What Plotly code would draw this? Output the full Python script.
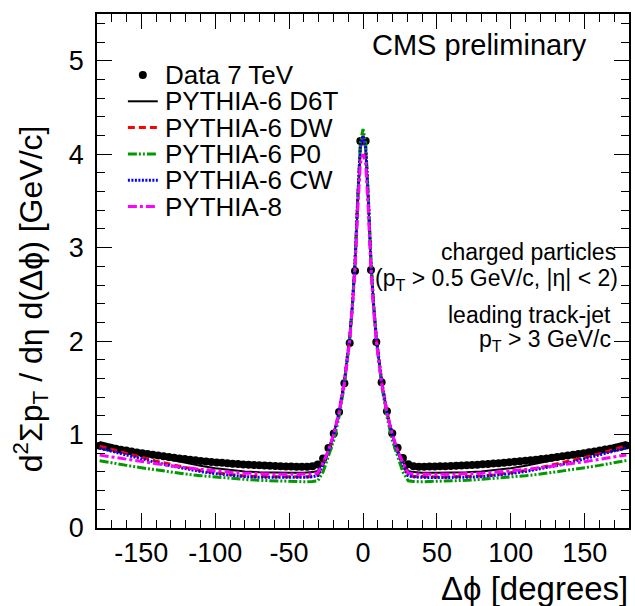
import plotly.graph_objects as go

# ---------------- data ----------------
DATA_PHI = [round(-178.2 + 3.6 * i, 1) for i in range(100)]
DATA_VAL = [
    0.880, 0.869, 0.858, 0.848, 0.838, 0.828, 0.818, 0.809, 0.800, 0.791,
    0.783, 0.775, 0.767, 0.759, 0.751, 0.744, 0.737, 0.730, 0.724, 0.718,
    0.712, 0.707, 0.702, 0.697, 0.692, 0.688, 0.684, 0.680, 0.677, 0.674,
    0.671, 0.668, 0.666, 0.663, 0.661, 0.659, 0.657, 0.656, 0.655, 0.656,
    0.661, 0.680, 0.745, 0.855, 1.010, 1.240, 1.550, 1.980, 2.750, 4.140,
    4.140, 2.760, 1.990, 1.560, 1.250, 1.015, 0.858, 0.748, 0.682, 0.662,
    0.656, 0.656, 0.657, 0.658, 0.660, 0.662, 0.664, 0.667, 0.669, 0.672,
    0.675, 0.678, 0.681, 0.685, 0.689, 0.693, 0.698, 0.703, 0.708, 0.713,
    0.719, 0.725, 0.731, 0.738, 0.745, 0.752, 0.760, 0.768, 0.776, 0.784,
    0.792, 0.801, 0.810, 0.819, 0.829, 0.839, 0.849, 0.859, 0.870, 0.882,
]

MC_PHI = [-178.2, -170, -160, -150, -140, -130, -120, -110, -100, -90, -80, -70,
          -60, -50, -40, -34.2, -30.6, -27.0, -23.4, -19.8, -16.2, -12.6, -9.0,
          -7.2, -5.4, -3.6, -1.8, 0,
          1.8, 3.6, 5.4, 7.2, 9.0, 12.6, 16.2, 19.8, 23.4, 27.0, 30.6, 34.2, 40,
          50, 60, 70, 80, 90, 100, 110, 120, 130, 140, 150, 160, 170, 178.2]

D6T = [0.920, 0.885, 0.845, 0.805, 0.765, 0.730, 0.695, 0.665, 0.640, 0.620, 0.605, 0.597,
       0.592, 0.590, 0.592, 0.598, 0.610, 0.710, 0.830, 1.000, 1.240, 1.570, 2.040,
       2.380, 2.820, 3.500, 4.050, 4.180,
       4.050, 3.500, 2.820, 2.380, 2.040, 1.570, 1.240, 1.000, 0.830, 0.710, 0.610, 0.598, 0.592,
       0.590, 0.592, 0.597, 0.605, 0.620, 0.640, 0.665, 0.695, 0.730, 0.765, 0.805, 0.845, 0.885, 0.920]

DW = [0.875, 0.840, 0.795, 0.755, 0.715, 0.680, 0.645, 0.615, 0.590, 0.570, 0.557, 0.550,
      0.547, 0.546, 0.548, 0.552, 0.565, 0.680, 0.820, 1.000, 1.240, 1.570, 2.040,
      2.380, 2.830, 3.520, 4.070, 4.200,
      4.070, 3.520, 2.830, 2.380, 2.040, 1.570, 1.240, 1.000, 0.820, 0.680, 0.565, 0.552, 0.548,
      0.546, 0.547, 0.550, 0.557, 0.570, 0.590, 0.615, 0.645, 0.680, 0.715, 0.755, 0.795, 0.840, 0.878]

P0 = [0.720, 0.695, 0.670, 0.645, 0.620, 0.597, 0.577, 0.560, 0.545, 0.532, 0.520, 0.510,
      0.503, 0.498, 0.495, 0.497, 0.505, 0.600, 0.760, 0.940, 1.190, 1.530, 2.020,
      2.380, 2.850, 3.550, 4.120, 4.270,
      4.120, 3.550, 2.850, 2.380, 2.020, 1.530, 1.190, 0.940, 0.760, 0.600, 0.505, 0.497, 0.495,
      0.498, 0.503, 0.510, 0.520, 0.532, 0.545, 0.560, 0.577, 0.597, 0.620, 0.645, 0.670, 0.695, 0.722]

CW = [0.855, 0.820, 0.780, 0.740, 0.700, 0.665, 0.633, 0.605, 0.582, 0.563, 0.550, 0.543,
      0.540, 0.540, 0.542, 0.548, 0.560, 0.680, 0.820, 1.000, 1.240, 1.570, 2.040,
      2.380, 2.830, 3.520, 4.070, 4.200,
      4.070, 3.520, 2.830, 2.380, 2.040, 1.570, 1.240, 1.000, 0.820, 0.680, 0.560, 0.548, 0.542,
      0.540, 0.540, 0.543, 0.550, 0.563, 0.582, 0.605, 0.633, 0.665, 0.700, 0.740, 0.780, 0.820, 0.858]

P8 = [0.780, 0.760, 0.735, 0.710, 0.685, 0.665, 0.645, 0.627, 0.610, 0.597, 0.587, 0.580,
      0.576, 0.574, 0.575, 0.578, 0.590, 0.700, 0.830, 1.000, 1.230, 1.550, 2.000,
      2.330, 2.750, 3.400, 3.900, 4.000,
      3.900, 3.400, 2.750, 2.330, 2.000, 1.550, 1.230, 1.000, 0.830, 0.700, 0.590, 0.578, 0.575,
      0.574, 0.576, 0.580, 0.587, 0.597, 0.610, 0.627, 0.645, 0.665, 0.685, 0.710, 0.735, 0.760, 0.782]

X_TICKS = [-150, -100, -50, 0, 50, 100, 150]
X_TICK_TEXT = ["-150", "-100", "-50", "0", "50", "100", "150"]
Y_TICKS = [0, 1, 2, 3, 4, 5]

LEGEND_NAMES = ["Data 7 TeV", "PYTHIA-6 D6T", "PYTHIA-6 DW", "PYTHIA-6 P0",
                "PYTHIA-6 CW", "PYTHIA-8"]

# ---------------- styles ----------------
FONT = "Liberation Sans, Arial, Helvetica, sans-serif"
W, H = 635, 606
L, R, T, B = 97, 4, 14, 78
PW, PH = W - L - R, H - T - B


def px_x(px):
    return (px - L) / PW


def px_y(py):
    return (H - B - py) / PH


curves = [
    (D6T, "#000000", "solid", 2.0),
    (DW, "#ff0000", "7px,4px", 3.0),
    (P0, "#009900", "9px,2px,2px,2px,2px,2px", 3.0),
    (CW, "#0000ff", "2px,1.5px", 3.0),
    (P8, "#ff00ff", "9px,3px,3px,3px", 3.0),
]

fig = go.Figure()
fig.add_trace(go.Scatter(x=DATA_PHI, y=DATA_VAL, mode="markers",
                         marker=dict(symbol="circle", size=8, color="black"),
                         name=LEGEND_NAMES[0], showlegend=False))
for (vals, col, dash, lw), name in zip(curves, LEGEND_NAMES[1:]):
    fig.add_trace(go.Scatter(x=MC_PHI, y=vals, mode="lines",
                             line=dict(color=col, dash=dash, width=lw),
                             name=name, showlegend=False))

# ---------------- manual legend ----------------
shapes = []
annotations = []
row0, drow = 75, 26.3
for i, name in enumerate(LEGEND_NAMES):
    yc = row0 + drow * i
    if i == 0:
        shapes.append(dict(type="circle", xref="paper", yref="paper",
                           xsizemode="pixel", ysizemode="pixel",
                           xanchor=px_x(143), yanchor=px_y(yc),
                           x0=-4, x1=4, y0=-4, y1=4,
                           fillcolor="black", line=dict(color="black", width=0)))
    else:
        _, col, dash, lw = curves[i - 1]
        shapes.append(dict(type="line", xref="paper", yref="paper",
                           x0=px_x(128), x1=px_x(158), y0=px_y(yc), y1=px_y(yc),
                           line=dict(color=col, dash=dash, width=lw)))
    annotations.append(dict(text=name, xref="paper", yref="paper",
                            x=px_x(163), y=px_y(yc), xanchor="left", yanchor="middle",
                            showarrow=False, font=dict(family=FONT, size=26, color="black")))

# ---------------- text ----------------
annotations += [
    dict(text="CMS preliminary", x=px_x(591), y=px_y(45), xanchor="right", yanchor="middle",
         font=dict(size=29)),
    dict(text="charged particles", x=px_x(620), y=px_y(252), xanchor="right", yanchor="middle",
         font=dict(size=23)),
    dict(text="(p<sub>T</sub> > 0.5 GeV/c, |η| < 2)", x=px_x(622), y=px_y(280),
         xanchor="right", yanchor="middle", font=dict(size=23)),
    dict(text="leading track-jet", x=px_x(615), y=px_y(315), xanchor="right", yanchor="middle",
         font=dict(size=23)),
    dict(text="p<sub>T</sub> > 3 GeV/c", x=px_x(615), y=px_y(340), xanchor="right",
         yanchor="middle", font=dict(size=23)),
    dict(text="Δϕ [degrees]", x=px_x(632), y=px_y(588), xanchor="right", yanchor="middle",
         font=dict(size=33)),
    dict(text="d<sup>2</sup>Σp<sub>T</sub> / dη d(Δϕ) [GeV/c]", x=px_x(30), y=px_y(299),
         xanchor="center", yanchor="middle", textangle=-90, font=dict(size=32)),
]
for a in annotations[len(LEGEND_NAMES):]:
    a.update(xref="paper", yref="paper", showarrow=False)
    a["font"].update(family=FONT, color="black")

axis_common = dict(
    showgrid=False, zeroline=False, showline=True, linecolor="black", linewidth=1.5,
    mirror="allticks", ticks="inside", ticklen=15, tickwidth=1, tickcolor="black",
    tickfont=dict(family=FONT, size=27, color="black"),
)

fig.update_layout(
    width=W, height=H,
    margin=dict(l=L, r=R, t=T, b=B),
    paper_bgcolor="white", plot_bgcolor="white",
    showlegend=False,
    shapes=shapes, annotations=annotations,
    xaxis=dict(range=[-180, 180], tickmode="array", tickvals=X_TICKS, ticktext=X_TICK_TEXT,
               minor=dict(ticks="inside", ticklen=8, tickmode="linear", tick0=0, dtick=10,
                          tickcolor="black", tickwidth=1),
               ticklabelstandoff=0, **axis_common),
    yaxis=dict(range=[0, 5.5], tickmode="array", tickvals=Y_TICKS,
               minor=dict(ticks="inside", ticklen=8, tickmode="linear", tick0=0, dtick=0.2,
                          tickcolor="black", tickwidth=1),
               ticklabelstandoff=6, **axis_common),
)

fig.write_html("out.html")
